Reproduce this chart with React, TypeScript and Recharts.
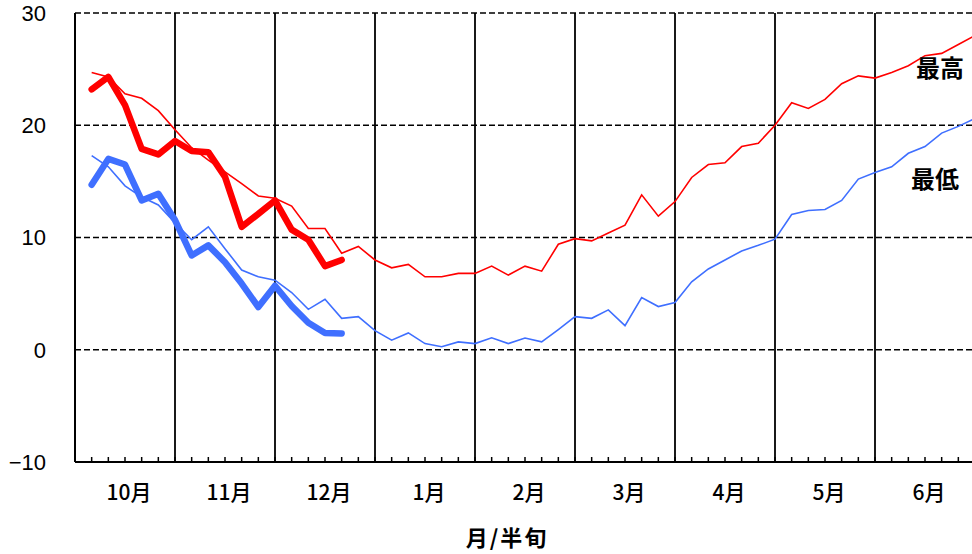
import {
  LineChart,
  Line,
  XAxis,
  YAxis,
  CartesianGrid,
  ReferenceLine,
} from "recharts";

// Months shown on the x axis, six pentads (半旬) each
const months = ["10月", "11月", "12月", "1月", "2月", "3月", "4月", "5月", "6月"];

// Normal (平年) pentad maximum temperature, Oct 1st pentad .. Jun 6th pentad
const normalMax = [
  24.7, 24.3, 22.8, 22.4, 21.3, 19.6, 18.0, 16.9, 15.85, 14.8,
  13.7, 13.5, 12.8, 10.8, 10.8, 8.6, 9.2, 8.0, 7.3, 7.6,
  6.5, 6.5, 6.8, 6.8, 7.45, 6.65, 7.45, 7.0, 9.4, 9.9,
  9.7, 10.4, 11.1, 13.8, 11.9, 13.2, 15.35, 16.5, 16.65, 18.1,
  18.4, 20.0, 22.0, 21.5, 22.3, 23.7, 24.4, 24.2, 24.7, 25.3,
  26.2, 26.4, 27.2, 28.0,
];

// Normal (平年) pentad minimum temperature
const normalMin = [
  17.3, 16.3, 14.6, 13.6, 12.9, 11.3, 9.8, 10.95, 9.0, 7.1,
  6.5, 6.2, 5.1, 3.6, 4.5, 2.8, 2.95, 1.7, 0.85, 1.5,
  0.55, 0.27, 0.7, 0.55, 1.07, 0.55, 1.05, 0.7, 1.8, 2.95,
  2.8, 3.55, 2.15, 4.65, 3.85, 4.2, 6.05, 7.2, 8.0, 8.8,
  9.3, 9.85, 12.05, 12.4, 12.5, 13.3, 15.2, 15.8, 16.3, 17.5,
  18.1, 19.3, 19.9, 20.6,
];

// This season's observed values so far (Oct .. mid Dec)
const actualMax = [
  23.2, 24.3, 21.8, 17.9, 17.4, 18.6, 17.7, 17.6, 15.4, 10.95,
  12.1, 13.3, 10.7, 9.8, 7.45, 8.0,
];
const actualMin = [
  14.7, 17.0, 16.5, 13.3, 13.9, 11.55, 8.4, 9.3, 7.8, 5.9,
  3.8, 5.7, 3.9, 2.4, 1.5, 1.45,
];

const yTicks = [-10, 0, 10, 20, 30];

const PER_MONTH = 6;
const TOTAL = months.length * PER_MONTH;

const rows = normalMax.map((v, i) => ({
  p: i + 1,
  normalMax: v,
  normalMin: normalMin[i],
  actualMax: actualMax[i],
  actualMin: actualMin[i],
}));

const pentadTicks = Array.from({ length: TOTAL - 1 }, (_, i) => i + 1);
const monthEdges = months.slice(1).map((_, i) => (i + 1) * PER_MONTH);

const RED = "#ff0000";
const BLUE = "#3f6fff";
const JP = "'Noto Sans CJK JP', 'Noto Sans', sans-serif";

function MonthTick(props: any) {
  const { x, y, payload } = props;
  const v = payload.value as number;
  if (v % PER_MONTH !== 3) return <g />;
  return (
    <text
      x={x + 4}
      y={y}
      textAnchor="middle"
      dominantBaseline="central"
      fill="#000"
      fontSize={21}
      fontFamily={JP}
      fontWeight={500}
    >
      {months[(v - 3) / PER_MONTH]}
    </text>
  );
}

const labelStyle: React.CSSProperties = {
  position: "absolute",
  fontFamily: JP,
  fontWeight: 700,
  color: "#000",
  whiteSpace: "nowrap",
  transform: "translate(-50%, -50%)",
  lineHeight: 1,
};

export default function App() {
  return (
    <div
      style={{
        position: "fixed",
        left: 0,
        top: 0,
        width: 972,
        height: 554,
        overflow: "hidden",
        background: "#fff",
      }}
    >
      <LineChart
        width={1000}
        height={554}
        data={rows}
        margin={{ top: 13, right: 25, bottom: 0, left: 0 }}
      >
        <CartesianGrid
          vertical={false}
          stroke="#000"
          strokeDasharray="6 3"
          strokeWidth={1.6}
        />
        <XAxis
          dataKey="p"
          type="number"
          domain={[0, TOTAL]}
          ticks={pentadTicks}
          interval={0}
          height={92}
          tickSize={-5}
          tickMargin={34}
          axisLine={{ stroke: "#000", strokeWidth: 2 }}
          tickLine={{ stroke: "#000", strokeWidth: 1.5 }}
          tick={<MonthTick />}
        />
        <YAxis
          type="number"
          domain={[-10, 30]}
          ticks={yTicks}
          width={75}
          tickSize={0}
          tickMargin={29}
          tickLine={false}
          axisLine={{ stroke: "#000", strokeWidth: 2 }}
          tick={{ fill: "#000", fontSize: 22, fontFamily: "'Liberation Sans', Arial, sans-serif" }}
          tickFormatter={(v: number) => (v < 0 ? `−${-v}` : `${v}`)}
        />
        {monthEdges.map((m) => (
          <ReferenceLine key={m} x={m} stroke="#000" strokeWidth={1.8} />
        ))}
        <Line
          dataKey="normalMax"
          stroke={RED}
          strokeWidth={1.6}
          dot={false}
          isAnimationActive={false}
        />
        <Line
          dataKey="normalMin"
          stroke={BLUE}
          strokeWidth={1.6}
          dot={false}
          isAnimationActive={false}
        />
        <Line
          dataKey="actualMax"
          stroke={RED}
          strokeWidth={6.5}
          strokeLinecap="round"
          strokeLinejoin="round"
          dot={false}
          isAnimationActive={false}
        />
        <Line
          dataKey="actualMin"
          stroke={BLUE}
          strokeWidth={6.5}
          strokeLinecap="round"
          strokeLinejoin="round"
          dot={false}
          isAnimationActive={false}
        />
      </LineChart>
      <div style={{ ...labelStyle, left: 940, top: 67, fontSize: 24 }}>最高</div>
      <div style={{ ...labelStyle, left: 935, top: 178, fontSize: 24 }}>最低</div>
      <div style={{ ...labelStyle, left: 507, top: 536, fontSize: 22, letterSpacing: 2 }}>
        月/半旬
      </div>
    </div>
  );
}
